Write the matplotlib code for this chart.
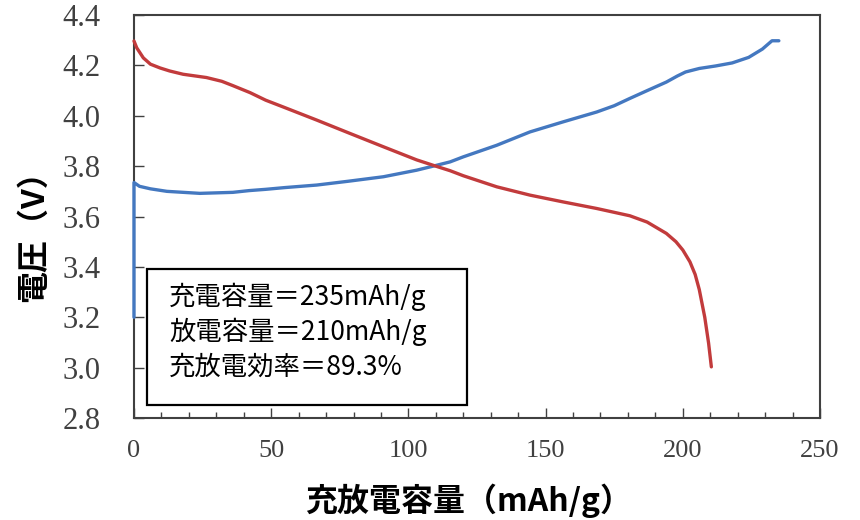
import numpy as np
import matplotlib.pyplot as plt
from matplotlib.patches import Rectangle
from matplotlib.ticker import MultipleLocator

# 充電曲線 (mAh/g, V)
charge_cap = [0, 0, 2, 6, 12, 24, 36, 42, 48, 55, 66.6, 78, 90.9, 103, 109, 115.2, 120,
              132.2, 144.3, 156.4, 168.6, 175, 180.7, 187, 194, 198, 201, 206, 212,
              218, 224, 229, 232.5, 235]
charge_v = [3.20, 3.735, 3.72, 3.71, 3.70, 3.692, 3.696, 3.703, 3.708, 3.715, 3.725,
            3.74, 3.758, 3.784, 3.80, 3.817, 3.837, 3.883, 3.936, 3.976, 4.015, 4.04,
            4.069, 4.10, 4.134, 4.158, 4.174, 4.188, 4.198, 4.21, 4.232, 4.265, 4.298,
            4.298]

# 放電曲線 (mAh/g, V)
discharge_cap = [0, 1, 3.4, 6, 9.5, 13, 17.9, 26.4, 32, 36, 42.3, 48, 54.4, 66.6, 78.7,
                 90.9, 103, 110, 115.2, 120, 132.2, 144.3, 156.4, 168.6, 180.7, 187,
                 194, 197.5, 200, 202.6, 204.5, 206, 208, 209.4, 210.4]
discharge_v = [4.297, 4.27, 4.23, 4.205, 4.19, 4.178, 4.165, 4.152, 4.137, 4.12, 4.092,
               4.062, 4.035, 3.983, 3.93, 3.877, 3.825, 3.80, 3.782, 3.762, 3.718,
               3.685, 3.658, 3.632, 3.603, 3.578, 3.533, 3.50, 3.467, 3.42, 3.37,
               3.31, 3.20, 3.097, 3.003]

info_lines = ['充電容量＝235mAh/g', '放電容量＝210mAh/g', '充放電効率＝89.3%']

cjk = ['Noto Sans CJK JP', 'DejaVu Sans']

fig = plt.figure(figsize=(8.6, 5.2), dpi=100)
ax = fig.add_axes([0.1558, 0.1962, 0.7977, 0.7748])

ax.plot(charge_cap, charge_v, color='#4478c0', linewidth=2.4,
        solid_capstyle='round', solid_joinstyle='round', zorder=3, clip_on=False)
ax.plot(discharge_cap, discharge_v, color='#c23b3c', linewidth=2.4,
        solid_capstyle='round', solid_joinstyle='round', zorder=3, clip_on=False)

ax.set_xlim(0, 250)
ax.set_ylim(2.8, 4.4)
ax.xaxis.set_major_locator(MultipleLocator(50))
ax.xaxis.set_minor_locator(MultipleLocator(10))
ax.yaxis.set_major_locator(MultipleLocator(0.2))
ax.yaxis.set_major_formatter(plt.FuncFormatter(lambda v, p: f'{v:.1f}'))

ax.tick_params(axis='both', which='major', direction='in', length=7, width=1,
               color='#404040', labelcolor='#404040')
ax.tick_params(axis='y', labelsize=22, pad=24)
ax.tick_params(axis='x', labelsize=19, pad=16)
ax.tick_params(axis='x', which='minor', direction='in', length=4, width=1, color='#404040')
for lab in ax.get_xticklabels() + ax.get_yticklabels():
    lab.set_family('Liberation Serif')
for sp in ax.spines.values():
    sp.set_color('#404040')
    sp.set_linewidth(1.5)

ax.set_xlabel('充放電容量（mAh/g）', fontsize=23, fontweight='bold', family=cjk)
ax.set_ylabel('電圧（V）', fontsize=23, fontweight='bold', family=cjk)
ax.xaxis.set_label_coords(0.488, -0.162)
ax.yaxis.set_label_coords(-0.122, 0.471)

# 容量の注記枠
ax.add_patch(Rectangle((0.019, 0.032), 0.466, 0.3375, transform=ax.transAxes,
                       fill=True, facecolor='white', edgecolor='black',
                       linewidth=1.6, zorder=5))
for i, t in enumerate(info_lines):
    ax.text(0.051, 0.300 - i * 0.0868, t, transform=ax.transAxes, fontsize=19,
            family=cjk, va='center', ha='left', zorder=6)

fig.savefig('out.png', dpi=100)
